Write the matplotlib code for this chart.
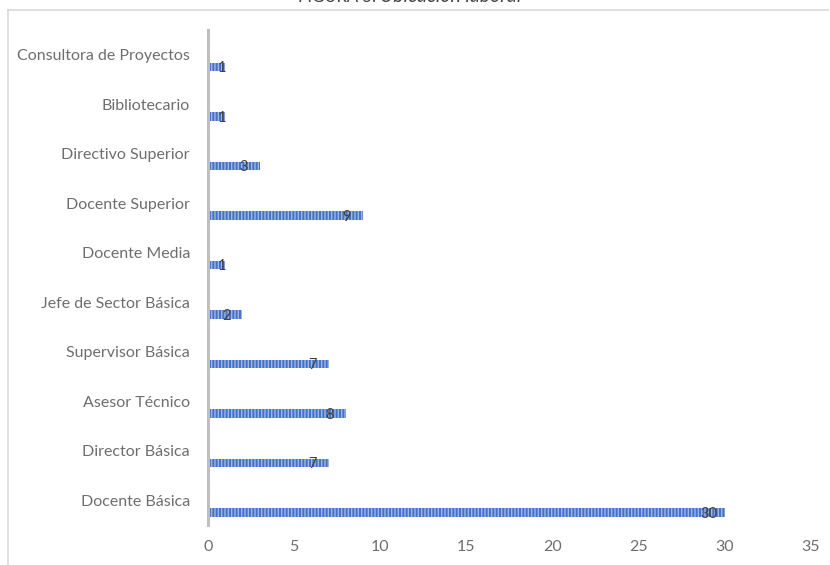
import matplotlib.pyplot as plt
from matplotlib.lines import Line2D

categorias = [
    "Consultora de Proyectos",
    "Bibliotecario",
    "Directivo Superior",
    "Docente Superior",
    "Docente Media",
    "Jefe de Sector Básica",
    "Supervisor Básica",
    "Asesor Técnico",
    "Director Básica",
    "Docente Básica",
]
cantidad = [1, 1, 3, 9, 1, 2, 7, 8, 7, 30]
x_ticks = [0, 5, 10, 15, 20, 25, 30, 35]

plt.rcParams["font.family"] = ["Lato", "DejaVu Sans"]
plt.rcParams["hatch.linewidth"] = 1.0

fig = plt.figure(figsize=(8.3, 5.65), dpi=100)
ax = fig.add_axes([0.2506, 0.0708, 0.7265, 0.876])

pos = list(range(len(categorias)))
bar_pos = [p + 0.25 for p in pos]
ax.barh(bar_pos, cantidad, height=0.17, color="#4472C4",
        edgecolor="#9DB5E8", hatch="|||||", linewidth=0)

for y, v in zip(bar_pos, cantidad):
    ax.text(max(v - 0.95, 0.8), y + 0.02, str(v), ha="center", va="center",
            fontsize=10.5, color="#404040")

ax.set_yticks(pos)
ax.set_yticklabels(categorias, fontsize=11.5, color="#6E6E6E")
ax.set_ylim(len(categorias) - 0.5, -0.5)
ax.set_xlim(0, 35)
ax.set_xticks(x_ticks)
ax.set_xticklabels([str(t) for t in x_ticks], fontsize=11.5, color="#6E6E6E")
ax.tick_params(axis="both", length=0)
ax.tick_params(axis="y", pad=13)
ax.tick_params(axis="x", pad=11)

for side in ["top", "right", "bottom"]:
    ax.spines[side].set_visible(False)
ax.spines["left"].set_color("#BFBFBF")
ax.spines["left"].set_linewidth(2.2)

# chart frame
fig.add_artist(Line2D([8 / 830, 828 / 830], [1 - 10 / 565, 1 - 10 / 565],
                      color="#D9D9D9", linewidth=1.2))
fig.add_artist(Line2D([8 / 830, 8 / 830], [0, 1 - 10 / 565],
                      color="#D9D9D9", linewidth=1.2))

# title, mostly above the visible area
fig.text(380 / 830, 1 + 3 / 565, "FIGURA 5: ", ha="right", va="center",
         fontsize=12, color="#404040")
fig.text(380 / 830, 1 + 3 / 565, "Ubicación laboral", ha="left", va="center",
         fontsize=14, style="italic", color="#404040")

fig.savefig("out.png", dpi=100)
